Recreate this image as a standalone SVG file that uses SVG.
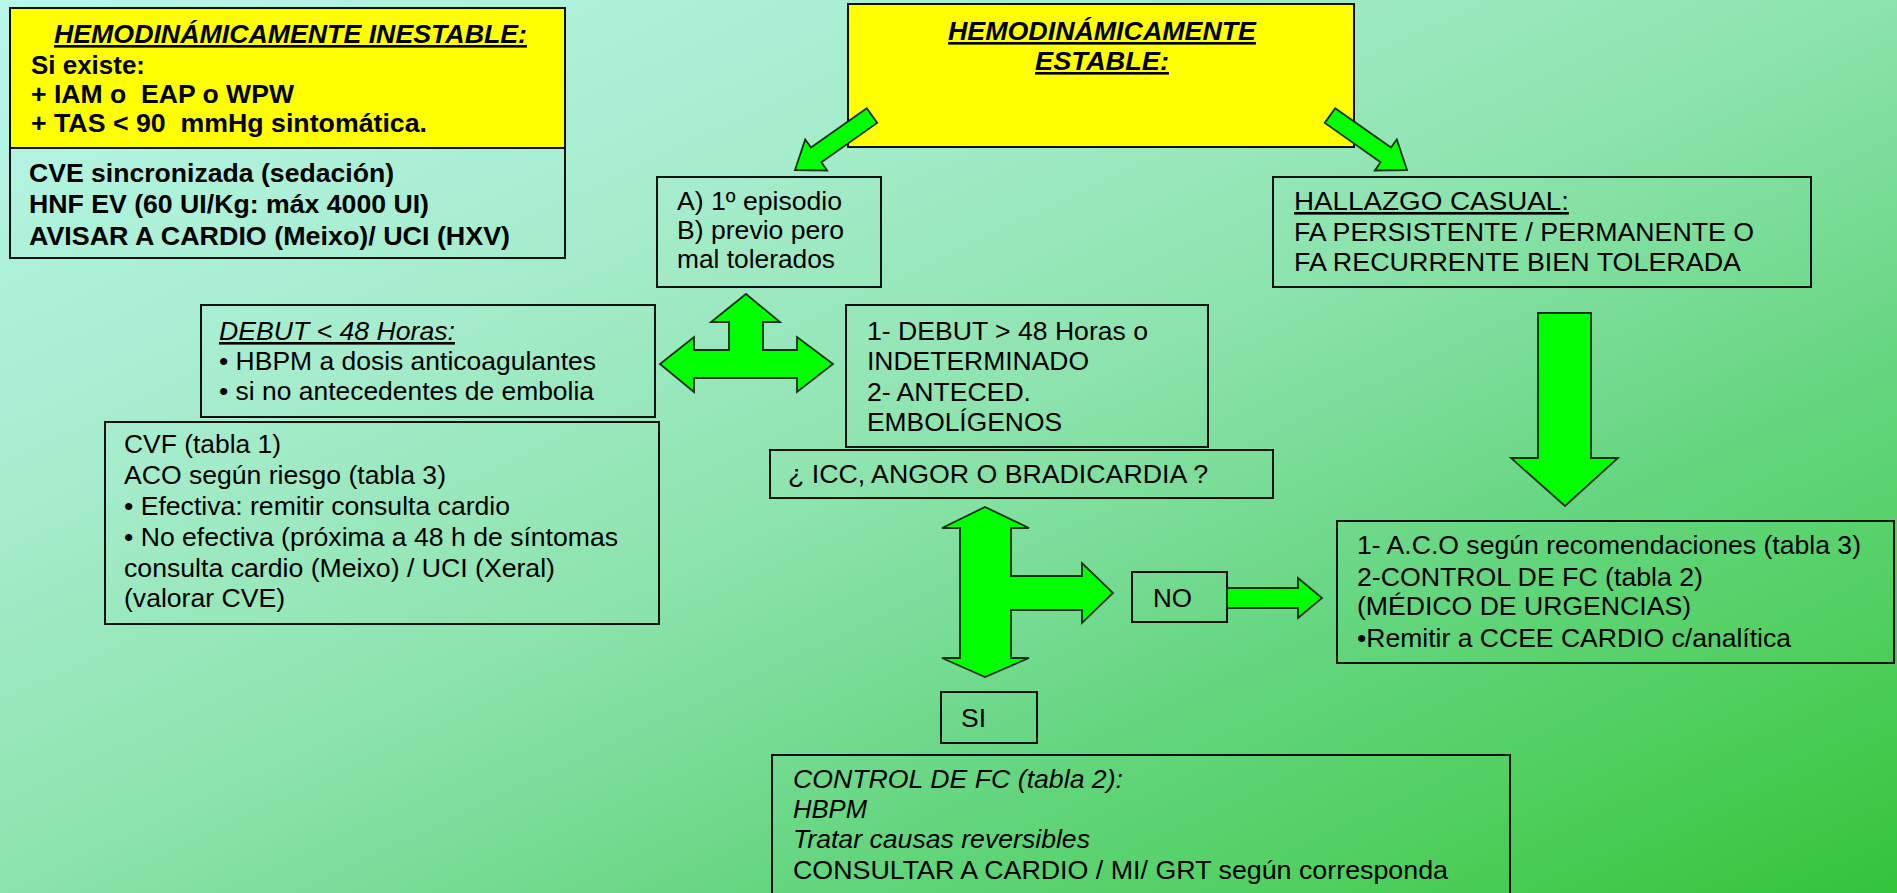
<svg xmlns="http://www.w3.org/2000/svg" width="1897" height="893" viewBox="0 0 1897 893">
  <defs>
    <linearGradient id="bg" x1="0" y1="0" x2="1" y2="1">
      <stop offset="0" stop-color="#b8f7ea"/>
      <stop offset="0.3" stop-color="#a4eccb"/>
      <stop offset="0.5" stop-color="#8ce3ac"/>
      <stop offset="0.7" stop-color="#65d680"/>
      <stop offset="0.85" stop-color="#4fcf5d"/>
      <stop offset="1" stop-color="#33c43a"/>
    </linearGradient>
  </defs>
  <style>
    .box { fill: none; stroke: #111; stroke-width: 2; }
    .yel { fill: #ffff00; }
    .t { font-family: "Liberation Sans", Arial, sans-serif; font-size: 26px; fill: #000; white-space: pre; }
    .b { font-weight: bold; }
    .i { font-style: italic; }
    .u { text-decoration: underline; }
    .arrow { fill: #00ff00; stroke: #173017; stroke-width: 1.8; stroke-linejoin: miter; }
  </style>

  <!-- background -->
  <rect x="0" y="0" width="1897" height="893" fill="url(#bg)"/>

  <!-- unstable patient -->
  <g id="inestable">
    <rect class="box yel" x="10" y="8" width="555" height="140"/>
    <text class="t b i u" x="54" y="43" textLength="473" lengthAdjust="spacingAndGlyphs">HEMODINÁMICAMENTE INESTABLE:</text>
    <text class="t b" x="31" y="74" textLength="114" lengthAdjust="spacingAndGlyphs">Si existe:</text>
    <text class="t b" x="31" y="103" textLength="263" lengthAdjust="spacingAndGlyphs">+ IAM o  EAP o WPW</text>
    <text class="t b" x="31" y="132" textLength="396" lengthAdjust="spacingAndGlyphs">+ TAS &lt; 90  mmHg sintomática.</text>
  </g>

  <g id="cve">
    <rect class="box" x="10" y="148" width="555" height="110"/>
    <text class="t b" x="29" y="182" textLength="365" lengthAdjust="spacingAndGlyphs">CVE sincronizada (sedación)</text>
    <text class="t b" x="29" y="213" textLength="400" lengthAdjust="spacingAndGlyphs">HNF EV (60 UI/Kg: máx 4000 UI)</text>
    <text class="t b" x="29" y="245" textLength="481" lengthAdjust="spacingAndGlyphs">AVISAR A CARDIO (Meixo)/ UCI (HXV)</text>
  </g>

  <!-- stable patient -->
  <g id="estable">
    <rect class="box yel" x="848" y="4" width="506" height="143"/>
    <text class="t b i u" x="948" y="40" textLength="308" lengthAdjust="spacingAndGlyphs">HEMODINÁMICAMENTE</text>
    <text class="t b i u" x="1035" y="70" textLength="134" lengthAdjust="spacingAndGlyphs">ESTABLE:</text>
  </g>

  <g id="episodio">
    <rect class="box" x="657" y="177" width="224" height="110"/>
    <text class="t" x="677" y="210" textLength="165" lengthAdjust="spacingAndGlyphs">A) 1º episodio</text>
    <text class="t" x="677" y="239" textLength="167" lengthAdjust="spacingAndGlyphs">B) previo pero</text>
    <text class="t" x="677" y="268" textLength="158" lengthAdjust="spacingAndGlyphs">mal tolerados</text>
  </g>

  <g id="hallazgo">
    <rect class="box" x="1273" y="177" width="538" height="110"/>
    <text class="t u" x="1294" y="210" textLength="275" lengthAdjust="spacingAndGlyphs">HALLAZGO CASUAL:</text>
    <text class="t" x="1294" y="241" textLength="460" lengthAdjust="spacingAndGlyphs">FA PERSISTENTE / PERMANENTE O</text>
    <text class="t" x="1294" y="271" textLength="447" lengthAdjust="spacingAndGlyphs">FA RECURRENTE BIEN TOLERADA</text>
  </g>

  <g id="debut-menor">
    <rect class="box" x="201" y="305" width="454" height="112"/>
    <text class="t i u" x="219" y="340" textLength="236" lengthAdjust="spacingAndGlyphs">DEBUT &lt; 48 Horas:</text>
    <text class="t" x="219" y="370" textLength="377" lengthAdjust="spacingAndGlyphs">• HBPM a dosis anticoagulantes</text>
    <text class="t" x="219" y="400" textLength="375" lengthAdjust="spacingAndGlyphs">• si no antecedentes de embolia</text>
  </g>

  <g id="debut-mayor">
    <rect class="box" x="846" y="305" width="362" height="142"/>
    <text class="t" x="867" y="340" textLength="281" lengthAdjust="spacingAndGlyphs">1- DEBUT &gt; 48 Horas o</text>
    <text class="t" x="867" y="370" textLength="222" lengthAdjust="spacingAndGlyphs">INDETERMINADO</text>
    <text class="t" x="867" y="401" textLength="164" lengthAdjust="spacingAndGlyphs">2- ANTECED.</text>
    <text class="t" x="867" y="431" textLength="195" lengthAdjust="spacingAndGlyphs">EMBOLÍGENOS</text>
  </g>

  <g id="cvf">
    <rect class="box" x="105" y="422" width="554" height="202"/>
    <text class="t" x="124" y="453" textLength="157" lengthAdjust="spacingAndGlyphs">CVF (tabla 1)</text>
    <text class="t" x="124" y="484" textLength="322" lengthAdjust="spacingAndGlyphs">ACO según riesgo (tabla 3)</text>
    <text class="t" x="124" y="515" textLength="386" lengthAdjust="spacingAndGlyphs">• Efectiva: remitir consulta cardio</text>
    <text class="t" x="124" y="546" textLength="494" lengthAdjust="spacingAndGlyphs">• No efectiva (próxima a 48 h de síntomas</text>
    <text class="t" x="124" y="577" textLength="431" lengthAdjust="spacingAndGlyphs">consulta cardio (Meixo) / UCI (Xeral)</text>
    <text class="t" x="124" y="607" textLength="161" lengthAdjust="spacingAndGlyphs">(valorar CVE)</text>
  </g>

  <g id="icc">
    <rect class="box" x="770" y="450" width="503" height="48"/>
    <text class="t" x="788" y="483" textLength="420" lengthAdjust="spacingAndGlyphs">¿ ICC, ANGOR O BRADICARDIA ?</text>
  </g>

  <g id="no">
    <rect class="box" x="1132" y="572" width="95" height="50"/>
    <text class="t" x="1153" y="607" textLength="39" lengthAdjust="spacingAndGlyphs">NO</text>
  </g>

  <g id="si">
    <rect class="box" x="941" y="692" width="96" height="51"/>
    <text class="t" x="961" y="727" textLength="25" lengthAdjust="spacingAndGlyphs">SI</text>
  </g>

  <g id="aco">
    <rect class="box" x="1337" y="521" width="557" height="142"/>
    <text class="t" x="1357" y="554" textLength="504" lengthAdjust="spacingAndGlyphs">1- A.C.O según recomendaciones (tabla 3)</text>
    <text class="t" x="1357" y="586" textLength="346" lengthAdjust="spacingAndGlyphs">2-CONTROL DE FC (tabla 2)</text>
    <text class="t" x="1357" y="615" textLength="334" lengthAdjust="spacingAndGlyphs">(MÉDICO DE URGENCIAS)</text>
    <text class="t" x="1357" y="647" textLength="434" lengthAdjust="spacingAndGlyphs">•Remitir a CCEE CARDIO c/analítica</text>
  </g>

  <g id="control-fc">
    <rect class="box" x="772" y="755" width="738" height="160"/>
    <text class="t i" x="793" y="788" textLength="330" lengthAdjust="spacingAndGlyphs">CONTROL DE FC (tabla 2):</text>
    <text class="t i" x="793" y="818" textLength="74" lengthAdjust="spacingAndGlyphs">HBPM</text>
    <text class="t i" x="793" y="848" textLength="297" lengthAdjust="spacingAndGlyphs">Tratar causas reversibles</text>
    <text class="t" x="793" y="879" textLength="655" lengthAdjust="spacingAndGlyphs">CONSULTAR A CARDIO / MI/ GRT según corresponda</text>
  </g>

  <!-- block arrows -->
  <g id="connectors">
    <polygon class="arrow" points="866.8,108.2 811,147.6 805.2,139.5 795,170 827.2,170.5 821.4,162.3 877.2,122.9"/>
    <polygon class="arrow" points="1335.2,108.2 1391,147.6 1396.8,139.5 1407,170 1374.8,170.5 1380.6,162.3 1324.8,122.9"/>
    <polygon class="arrow" points="1538,313 1591,313 1591,458 1618,458 1565,506 1511,458 1538,458"/>
    <polygon class="arrow" points="746,294 780,322 763,322 763,350 797,350 797,337 833,364 797,392 797,378 694,378 694,392 660,364 694,337 694,350 729,350 729,322 711,322"/>
    <polygon class="arrow" points="985,507 1029,528 1011,528 1011,576 1082,576 1082,563 1113,593 1082,623 1082,610 1011,610 1011,658 1029,658 985,677 942,658 960,658 960,528 942,528"/>
    <polygon class="arrow" points="1227,588 1298,588 1298,578 1322,598 1298,618 1298,608 1227,608"/>
  </g>
</svg>
